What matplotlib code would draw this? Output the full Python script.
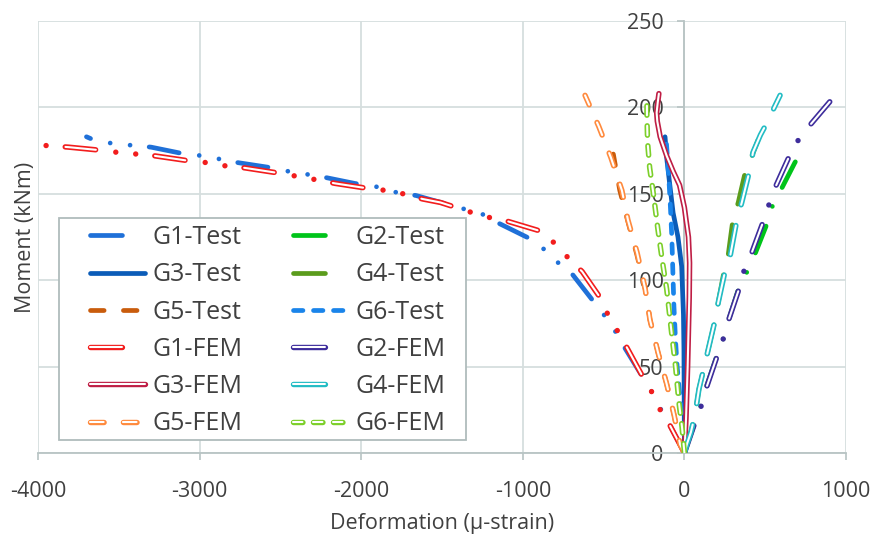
import matplotlib
matplotlib.use("Agg")
import matplotlib.pyplot as plt
from matplotlib.lines import Line2D
from matplotlib.patches import Rectangle

plt.rcParams['font.family'] = ['Open Sans', 'DejaVu Sans']
plt.rcParams['axes.unicode_minus'] = False
plt.rcParams['lines.scale_dashes'] = False  # dash lengths in points

# ---- data: (deformation in micro-strain, moment in kNm) ----
g1_test_x = [0, -90, -150, -200, -265, -370, -425, -490, -565, -690, -780, -870, -955, -1150, -1245,
             -1355, -1660, -1790, -1900, -2040, -2250, -2450, -2550, -2760, -2980, -3090, -3300,
             -3410, -3530, -3650, -3700]
g1_test_y = [0, 16, 26, 35, 45, 61, 70, 79, 88, 103, 110, 118, 124, 133, 138,
             141, 149, 151, 154, 156, 160, 163, 165, 168, 172, 173, 177,
             178, 179, 181, 183]

g1_fem_x = [0, -90, -145, -200, -257, -356, -410, -473, -522, -633, -720, -800, -876, -1090, -1195,
            -1310, -1510, -1620, -1740, -1850, -1950, -2160, -2270, -2390, -2510, -2720, -2830,
            -2950, -3060, -3280, -3390, -3510, -3590, -3810, -3960]
g1_fem_y = [0, 16, 24, 35, 44, 61, 70, 80, 90, 105, 113, 121, 128, 134, 136,
            139, 145, 147, 150, 152, 153, 156, 158, 160, 162, 165, 166,
            168, 169, 172, 173, 174, 175, 177, 178]

g2_test_x = [0, 55, 100, 135, 200, 240, 270, 335, 388, 436, 504, 540, 590, 683, 741]
g2_test_y = [0, 15, 27, 38, 56, 66, 76, 95, 105, 115, 131, 142, 151, 168, 177]

g2_fem_x = [0, 55, 103, 133, 202, 240, 270, 338, 367, 413, 488, 524, 563, 650, 704, 779, 915]
g2_fem_y = [0, 15, 27, 37, 56, 66, 76, 95, 105, 115, 134, 144, 154, 172, 181, 190, 205]

g3_test_x = [0, -1, -2, -3, -6, -12, -17, -40, -70, -89, -110, -120]
g3_test_y = [0, 20, 40, 60, 80, 95, 108, 125, 139, 154, 171, 183]

g3_fem_x = [0, 5, 10, 15, 20, 25, 30, 32, 25, 10, 0, -30, -70, -110, -150, -168, -172, -165, -158]
g3_fem_y = [0, 10, 20, 35, 50, 70, 90, 110, 125, 135, 142, 155, 163, 172, 183, 192, 197, 203, 208]

g4_test_x = [0, 15, 40, 65, 90, 115, 140, 190, 209, 245, 270, 300, 333, 380, 418, 455]
g4_test_y = [0, 5, 12, 22, 37, 47, 57, 77, 87, 105, 114, 135, 145, 164, 172, 181]

g4_fem_x = [0, 15, 40, 65, 90, 115, 140, 190, 209, 251, 283, 325, 355, 405, 424, 470, 510, 561, 592]
g4_fem_y = [0, 5, 12, 22, 37, 47, 57, 77, 87, 105, 114, 135, 145, 164, 174, 184, 191, 201, 207]

g5_test_x = [0, -27, -64, -110, -163, -213, -243, -295, -350, -400, -440]
g5_test_y = [0, 5, 22, 40, 58, 77, 95, 115, 134, 152, 173]

g5_fem_x = [0, -27, -64, -110, -163, -213, -243, -293, -350, -387, -455, -530, -615]
g5_fem_y = [0, 5, 22, 40, 58, 77, 95, 116, 135, 152, 171, 189, 207]

g6_test_x = [0, -5, -15, -25, -35, -45, -55, -65, -70, -78, -88, -97, -108, -115]
g6_test_y = [0, 10, 20, 30, 40, 50, 65, 85, 100, 125, 145, 160, 175, 184]

g6_fem_x = [0, -15, -35, -55, -80, -110, -135, -165, -195, -215, -228, -232, -232]
g6_fem_y = [0, 15, 30, 50, 70, 95, 110, 130, 152, 165, 180, 195, 207]

x_ticks = [-4000, -3000, -2000, -1000, 0, 1000]
y_ticks = [0, 50, 100, 150, 200, 250]

# ---- line patterns (points) ----
LONG_DASH_DOT_DOT = [22, 13.8, 0.01, 14.4, 0.01, 14.6]
LONG_DASH_DOT_DOT_IN = [22, 42.8]
LONG_DASH_DOT = [20.8, 14.9, 0.01, 15.3]
LONG_DASH_DOT_IN = [20.8, 30.2]
LONG_DASH = [21.3, 15.4]
DASH = [9.8, 13.9]
SHORT_DASH = [6.8, 7.6]
LEGEND_LONG = [23, 40]  # legend sample only shows the first long dash

text_col = '#404040'
grid_col = '#D6DEDE'
spine_col = '#B8C4C4'

fig = plt.figure(figsize=(8.77, 5.35), dpi=100)
ax = fig.add_axes([0.0433, 0.1533, 0.9214, 0.8074])

TEST_LW = 3.4
FEM_LW = 3.9
FEM_IN = 1.5
ROUND = dict(solid_capstyle='round', dash_capstyle='round',
             solid_joinstyle='round', dash_joinstyle='round')


def test_line(x, y, color, dashes=None, leg_dashes=None):
    kw = dict(color=color, lw=TEST_LW, zorder=3, **ROUND)
    if dashes is not None:
        kw['dashes'] = dashes
    ax.plot(x, y, **kw)
    # proxy for the legend
    pk = dict(color=color, lw=TEST_LW, **ROUND)
    d = leg_dashes if leg_dashes is not None else dashes
    if d is not None:
        pk['dashes'] = d
    return Line2D([], [], **pk)


def fem_line(x, y, color, dashes=None, inner=None, leg_dashes=None):
    kw_out = dict(ROUND)
    kw_in = dict(ROUND)
    if dashes is not None:
        kw_out['dashes'] = dashes
        kw_in['dashes'] = inner if inner is not None else dashes
    ax.plot(x, y, color=color, lw=FEM_LW, zorder=4, **kw_out)
    ax.plot(x, y, color='white', lw=FEM_IN, zorder=4, **kw_in)
    pk = dict(ROUND)
    d = leg_dashes if leg_dashes is not None else dashes
    if d is not None:
        pk['dashes'] = d
    return (Line2D([], [], color=color, lw=FEM_LW, **pk),
            Line2D([], [], color='white', lw=FEM_IN, **pk))


h_g1t = test_line(g1_test_x, g1_test_y, '#1F70D8', LONG_DASH_DOT_DOT, LEGEND_LONG)
h_g2t = test_line(g2_test_x, g2_test_y, '#00C41A', LONG_DASH_DOT, LEGEND_LONG)
h_g3t = test_line(g3_test_x, g3_test_y, '#0B5CB8')
h_g4t = test_line(g4_test_x, g4_test_y, '#5B9C1C', LONG_DASH, LEGEND_LONG)
h_g5t = test_line(g5_test_x, g5_test_y, '#C95C0C', DASH)
h_g6t = test_line(g6_test_x, g6_test_y, '#1A84EA', SHORT_DASH)

h_g1f = fem_line(g1_fem_x, g1_fem_y, '#F21D1D', LONG_DASH_DOT_DOT, LONG_DASH_DOT_DOT_IN, LEGEND_LONG)
h_g2f = fem_line(g2_fem_x, g2_fem_y, '#3E2D9C', LONG_DASH_DOT, LONG_DASH_DOT_IN, LEGEND_LONG)
h_g3f = fem_line(g3_fem_x, g3_fem_y, '#BF1E45')
h_g4f = fem_line(g4_fem_x, g4_fem_y, '#22BCC4', LONG_DASH, None, LEGEND_LONG)
h_g5f = fem_line(g5_fem_x, g5_fem_y, '#FF8A3D', DASH)
h_g6f = fem_line(g6_fem_x, g6_fem_y, '#7CCF2A', SHORT_DASH)

# axes styling
ax.set_xlim(-4000, 1000)
ax.set_ylim(0, 250)
ax.set_xticks(x_ticks)
ax.set_yticks(y_ticks)
ax.set_xticklabels([str(v) for v in x_ticks])
ax.set_yticklabels([str(v) for v in y_ticks])
ax.grid(True, color=grid_col, lw=1.3)
ax.set_axisbelow(True)

ax.spines['top'].set_visible(False)
ax.spines['right'].set_visible(False)
ax.spines['left'].set_position(('data', 0))
ax.spines['left'].set_color(spine_col)
ax.spines['bottom'].set_color(spine_col)
ax.spines['left'].set_linewidth(1.3)
ax.spines['bottom'].set_linewidth(1.3)
ax.tick_params(axis='both', colors=spine_col, labelcolor=text_col, labelsize=15.5,
               length=5, width=1.2)
ax.tick_params(axis='x', pad=15)
ax.tick_params(axis='y', pad=10)

ax.set_xlabel('Deformation (\u03bc-strain)', fontsize=15.5, color=text_col, labelpad=8)
ax.set_ylabel('Moment (kNm)', fontsize=15.5, color=text_col)
ax.yaxis.set_label_coords(-0.002, 0.5)

# legend frame drawn separately so the padding matches the original
frame = Rectangle((0.026, 0.030), 0.5037, 0.5139, transform=ax.transAxes,
                  facecolor='white', edgecolor='#B0BCBC', lw=1.3, zorder=4.9)
ax.add_patch(frame)

handles = [h_g1t, h_g3t, h_g5t, h_g1f, h_g3f, h_g5f,
           h_g2t, h_g4t, h_g6t, h_g2f, h_g4f, h_g6f]
labels = ['G1-Test', 'G3-Test', 'G5-Test', 'G1-FEM', 'G3-FEM', 'G5-FEM',
          'G2-Test', 'G4-Test', 'G6-Test', 'G2-FEM', 'G4-FEM', 'G6-FEM']
leg = ax.legend(handles, labels, ncol=2, loc='upper left', bbox_to_anchor=(0.055, 0.545),
                borderaxespad=0, fontsize=18, handlelength=2.2, handletextpad=0.3,
                columnspacing=2.0, labelspacing=0.49, borderpad=0.3, frameon=False,
                labelcolor=text_col)
leg.set_zorder(5)

fig.savefig('out.png', dpi=100)
